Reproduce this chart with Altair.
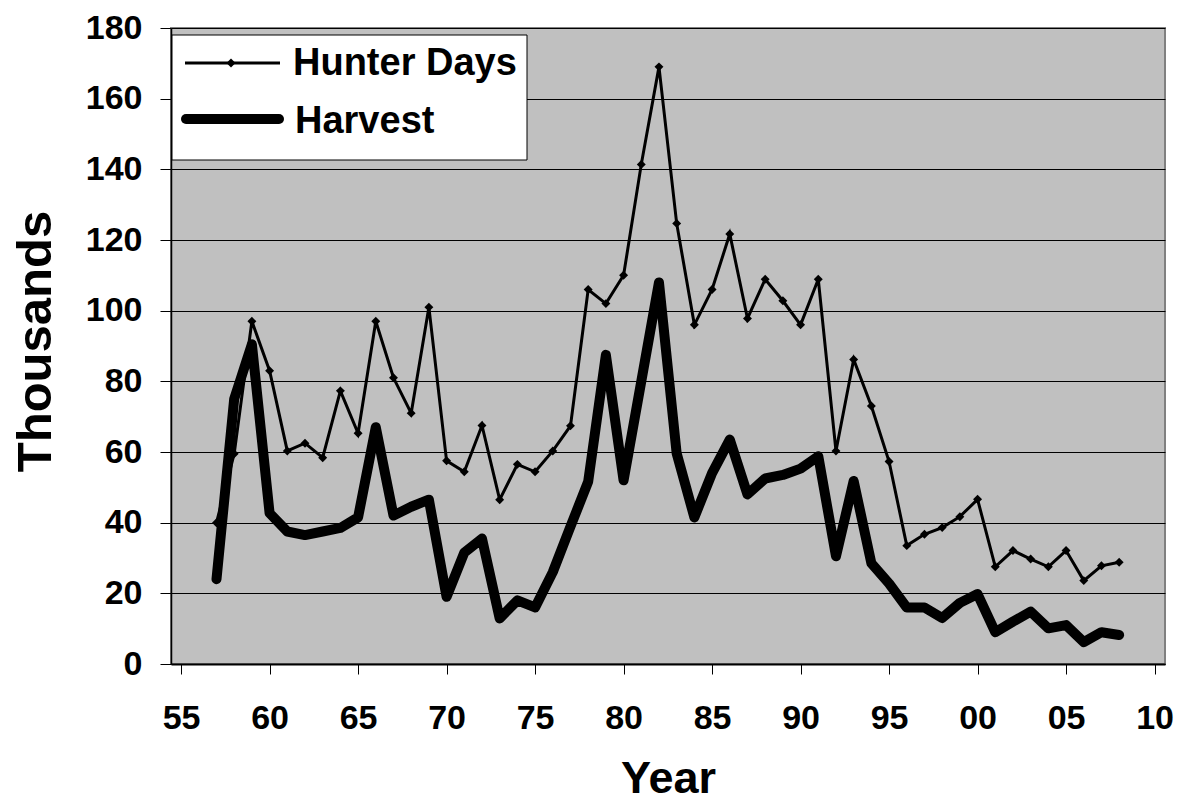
import json
import altair as alt
import pandas as pd

years = list(range(1957, 2009))
hunter_days = [40, 59.5, 97, 83, 60.3, 62.5, 58.4, 77.3, 65.3, 97, 81, 71, 101, 57.5,
               54.4, 67.5, 46.5, 56.5, 54.4, 60.3, 67.4, 106, 102, 110, 141.4, 169,
               124.7, 96, 106, 121.7, 97.8, 108.9, 102.8, 96, 108.9, 60.3, 86.2, 73,
               57.3, 33.5, 36.7, 38.6, 41.7, 46.6, 27.5, 32.1, 29.7, 27.5, 32.1, 23.6,
               27.8, 28.8]
harvest = [24, 75, 90.5, 42.7, 37.5, 36.5, 37.5, 38.5, 41.5, 67, 42, 44.5, 46.5, 19,
           31.5, 35.5, 12.9, 18, 16, 26, 38.9, 51.6, 87.5, 52, 80, 108, 59.6, 41.5,
           54, 63.5, 48, 52.5, 53.5, 55.3, 58.8, 30.5, 51.8, 28.5, 22.8, 16, 16, 13,
           17.3, 19.8, 9, 12, 14.8, 10.1, 11, 6.2, 9, 8.2]
x_tick_values = list(range(1955, 2011, 5))
x_tick_labels = ["55", "60", "65", "70", "75", "80", "85", "90", "95", "00", "05", "10"]
y_tick_values = list(range(0, 181, 20))
series_names = ["Hunter Days", "Harvest"]

FONT = "Liberation Sans"

df_h = pd.DataFrame({"Year": years, "Value": hunter_days})
df_v = pd.DataFrame({"Year": years, "Value": harvest})

x_enc = alt.X(
    "Year:Q",
    scale=alt.Scale(domain=[1954.43, 2010.59], nice=False, zero=False),
    axis=alt.Axis(
        values=x_tick_values,
        labelExpr=f"{json.dumps(x_tick_labels)}[round((datum.value - 1955) / 5)]",
        title="Year",
        titleFontSize=45,
        titleFontWeight="bold",
        titleFont=FONT,
        titleX=497,
        titleY=128,
        titleBaseline="alphabetic",
        titleAlign="center",
        labelFontSize=34,
        labelFont=FONT,
        labelFontWeight="bold",
        labelBaseline="alphabetic",
        labelPadding=54,
        tickSize=10,
        tickColor="black",
        domainColor="black",
        domainWidth=2,
        grid=False,
        labelFlush=False,
        labelOverlap=False,
    ),
)
y_enc = alt.Y(
    "Value:Q",
    scale=alt.Scale(domain=[0, 180], nice=False),
    axis=alt.Axis(
        values=y_tick_values,
        title="Thousands",
        titleFontSize=49,
        titleFontWeight="bold",
        titleFont=FONT,
        titleAngle=270,
        titleX=-136,
        titleY=313,
        titleAlign="center",
        titleBaseline="middle",
        labelFontSize=34,
        labelFont=FONT,
        labelFontWeight="bold",
        labelPadding=18,
        tickSize=11,
        tickColor="black",
        domainColor="black",
        domainWidth=1.5,
        grid=True,
        gridColor="black",
        gridWidth=1,
        labelFlush=False,
    ),
)

hunter = alt.Chart(df_h).mark_line(
    color="black", strokeWidth=3,
    point=alt.OverlayMarkDef(shape="diamond", size=80, filled=True, color="black"),
).encode(x=x_enc, y=y_enc)

harv = alt.Chart(df_v).mark_line(
    color="black", strokeWidth=10, strokeJoin="round", strokeCap="round"
).encode(x="Year:Q", y="Value:Q")

one = alt.Data(values=[{"a": 1}])

legend_box = alt.Chart(one).mark_rect(fill="white", stroke="black", strokeWidth=1).encode(
    x=alt.value(1), x2=alt.value(356), y=alt.value(7), y2=alt.value(132)
)
leg_h_line = alt.Chart(one).mark_rule(color="black", strokeWidth=3).encode(
    x=alt.value(14), x2=alt.value(109), y=alt.value(35)
)
leg_h_pt = alt.Chart(one).mark_point(shape="diamond", size=80, filled=True, color="black", opacity=1).encode(
    x=alt.value(60), y=alt.value(35)
)
leg_h_txt = alt.Chart(one).mark_text(
    text=series_names[0], font=FONT, fontSize=38, fontWeight="bold", align="left",
    baseline="alphabetic", color="black"
).encode(x=alt.value(122), y=alt.value(47))
leg_v_line = alt.Chart(one).mark_rule(color="black", strokeWidth=10, strokeCap="round").encode(
    x=alt.value(15), x2=alt.value(108), y=alt.value(91)
)
leg_v_txt = alt.Chart(one).mark_text(
    text=series_names[1], font=FONT, fontSize=38, fontWeight="bold", align="left",
    baseline="alphabetic", color="black"
).encode(x=alt.value(124), y=alt.value(105))

chart = alt.layer(
    hunter, harv, legend_box, leg_h_line, leg_h_pt, leg_h_txt, leg_v_line, leg_v_txt
).properties(
    width=994,
    height=636,
    padding={"left": 163, "top": 20, "right": 10, "bottom": 139},
    autosize=alt.AutoSizeParams(type="none"),
    background="white",
).configure_view(
    fill="#C0C0C0", stroke="#808080", strokeWidth=2
)

chart.save("out.html", embed_options={"renderer": "svg", "actions": False})
